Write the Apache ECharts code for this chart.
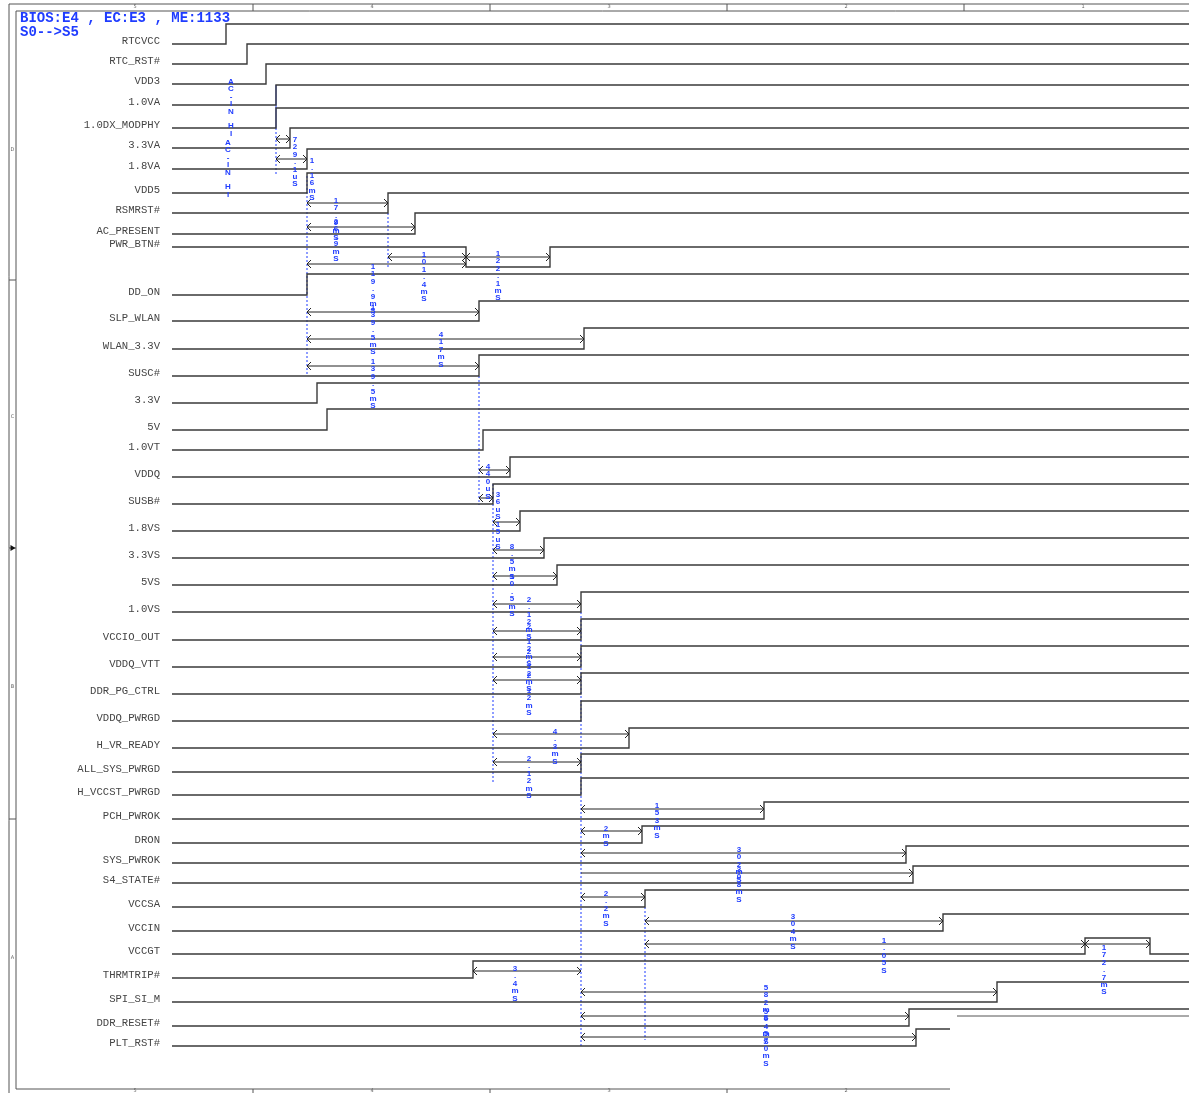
<!DOCTYPE html>
<html>
<head>
<meta charset="utf-8">
<title>S0 --> S5 power sequence</title>
<script src="https://cdn.jsdelivr.net/npm/echarts@6/dist/echarts.min.js"></script>
<style>
  html, body { margin: 0; padding: 0; background: #fff; }
  #chart { width: 1189px; height: 1093px; }
</style>
</head>
<body>
<div id="chart"></div>
<script>
// signal rows (top to bottom)
const signals = [
  "RTCVCC", "RTC_RST#", "VDD3", "1.0VA", "1.0DX_MODPHY", "3.3VA", "1.8VA", "VDD5",
  "RSMRST#", "AC_PRESENT", "PWR_BTN#", "DD_ON", "SLP_WLAN", "WLAN_3.3V", "SUSC#",
  "3.3V", "5V", "1.0VT", "VDDQ", "SUSB#", "1.8VS", "3.3VS", "5VS", "1.0VS",
  "VCCIO_OUT", "VDDQ_VTT", "DDR_PG_CTRL", "VDDQ_PWRGD", "H_VR_READY", "ALL_SYS_PWRGD",
  "H_VCCST_PWRGD", "PCH_PWROK", "DRON", "SYS_PWROK", "S4_STATE#", "VCCSA", "VCCIN",
  "VCCGT", "THRMTRIP#", "SPI_SI_M", "DDR_RESET#", "PLT_RST#"
];
// row value of the low and the high level of each trace
const lowLevel = [
  44, 64, 84, 105, 128, 148, 169, 193, 213, 234, 267, 295, 321, 349, 376,
  403, 430, 450, 477, 504, 531, 558, 585, 612, 640, 667, 694, 721, 748, 772,
  795, 819, 843, 863, 883, 907, 931, 954, 978, 1002, 1026, 1046
];
const highLevel = [
  24, 44, 64, 85, 108, 128, 149, 173, 193, 213, 247, 274, 301, 328, 355,
  383, 409, 430, 457, 484, 511, 538, 565, 592, 619, 646, 673, 701, 728, 754,
  778, 802, 826, 846, 866, 890, 914, 938, 961, 982, 1009, 1029
];
// 1 = trace starts high
const startHigh = [
  0, 0, 0, 0, 0, 0, 0, 0, 0, 0, 1, 0, 0, 0, 0,
  0, 0, 0, 0, 0, 0, 0, 0, 0, 0, 0, 0, 0, 0, 0,
  0, 0, 0, 0, 0, 0, 0, 0, 0, 0, 0, 0
];
// time of each level change
const edgeTimes = [
  [226], [247], [266], [276], [276], [290], [307], [307], [388], [415], [466, 550],
  [307], [479], [584], [479], [317], [327], [483], [510], [493], [520], [544],
  [557], [581], [581], [581], [581], [581], [629], [581], [581], [764], [642],
  [906], [913], [645], [943], [1085, 1150], [473], [997], [909], [916]
];
const traceStart = 172;
const timeEnd = 1189;
const traceEndOverride = { "PLT_RST#": 950 };

// timing measurements: from, to, row, text
const measFrom = [276, 276, 307, 307, 388, 466, 307, 307, 307, 307, 479, 479, 493, 493, 493,
  493, 493, 493, 493, 493, 493, 581, 581, 581, 581, 581, 645, 645, 1085, 473, 581, 581, 581];
const measTo = [290, 307, 388, 415, 466, 550, 466, 479, 584, 479, 510, 493, 520, 544, 557,
  581, 581, 581, 581, 629, 581, 764, 642, 906, 913, 645, 943, 1085, 1150, 581, 997, 909, 916];
const measRow = [139, 159, 203, 227, 257, 257, 264, 312, 339, 366, 470, 498, 522, 550, 576,
  604, 631, 657, 680, 734, 762, 809, 831, 853, 873, 897, 921, 944, 944, 971, 992, 1016, 1037];
const measText = ["729.1uS", "1.16mS", "17.9mS", "26.9mS", "101.4mS", "122.1mS", "119.9mS",
  "139.5mS", "417mS", "139.5mS", "440uS", "36uS", "15uS", "8.5mS", "10.5mS",
  "2.12mS", "2.12mS", "2.12mS", "2.12mS", "4.3mS", "2.12mS", "153mS", "2mS", "302mS",
  "308mS", "2.2mS", "304mS", "1.05S", "172.7mS", "3.4mS", "582mS", "564mS", "570mS"];
const measTextAt = [[295, 140], [312, 161], [336, 201], [336, 222], [424, 255], [498, 254],
  [373, 267], [373, 308], [441, 335], [373, 362], [488, 467], [498, 495], [498, 525],
  [512, 547], [512, 577], [529, 600], [529, 627], [529, 652], [529, 676], [555, 732],
  [529, 759], [657, 806], [606, 829], [739, 850], [739, 870], [606, 894], [793, 917],
  [884, 941], [1104, 948], [515, 969], [766, 988], [766, 1012], [766, 1034]];
const measLeftHead = [1, 1, 1, 1, 1, 1, 1, 1, 1, 1, 1, 1, 1, 1, 1, 1, 1, 1, 1, 1, 1,
  1, 1, 1, 0, 1, 1, 1, 1, 1, 1, 1, 1];

// event markers (time, from row, to row)
const markerTime = [276, 276, 307, 388, 479, 493, 581, 645];
const markerFrom = [85, 128, 176, 213, 376, 484, 612, 907];
const markerTo = [128, 176, 376, 268, 505, 782, 1046, 1040];
const markerSolid = [1, 0, 0, 0, 0, 0, 0, 0];

const notes = ["AC-IN HI", "AC-IN HI"];
const noteAt = [[231, 82], [228, 143]];

// drawing sheet border
const sheetH = [[4, 9, 1189], [11, 16, 1189], [1089, 16, 950], [280, 9, 16], [548, 9, 16],
  [819, 9, 16], [1016, 957, 1189]];
const sheetV = [[9, 4, 1093], [16, 11, 1089], [253, 4, 11], [490, 4, 11], [727, 4, 11],
  [964, 4, 11], [253, 1089, 1093], [490, 1089, 1093], [727, 1089, 1093]];
const zoneCols = ["5", "4", "3", "2", "1"];
const zoneColAt = [135, 372, 609, 846, 1083];
const zoneRows = ["D", "C", "B", "A"];
const zoneRowAt = [150, 417, 687, 958];

const BLUE = "#1f3cff";
const INK = "#3a3a3a";

const chart = echarts.init(document.getElementById("chart"));

function vtext(str) {
  return str.split("").join("\n");
}

function chevron(p, dir) {
  return {
    type: "polyline",
    shape: { points: [[p[0] + 4 * dir, p[1] - 4], [p[0], p[1]], [p[0] + 4 * dir, p[1] + 4]] },
    style: { stroke: "#222", lineWidth: 1, fill: null }
  };
}

// waveform + name
function renderWave(params, api) {
  const i = params.dataIndex;
  let lv = startHigh[i];
  const yOf = (l) => (l ? highLevel[i] : lowLevel[i]);
  const pts = [api.coord([traceStart, yOf(lv)])];
  edgeTimes[i].forEach((t) => {
    pts.push(api.coord([t, yOf(lv)]));
    lv = 1 - lv;
    pts.push(api.coord([t, yOf(lv)]));
  });
  const end = traceEndOverride[signals[i]] || timeEnd;
  pts.push(api.coord([end, yOf(lv)]));
  const lp = api.coord([traceStart - 12, yOf(startHigh[i]) - 3]);
  return {
    type: "group",
    children: [
      { type: "polyline", shape: { points: pts }, style: { stroke: INK, lineWidth: 1.4, fill: null } },
      {
        type: "text", x: lp[0], y: lp[1],
        style: {
          text: signals[i], align: "right", verticalAlign: "middle",
          font: '10.6px "Liberation Mono"', fill: "#444"
        }
      }
    ]
  };
}

// measurement arrow with its vertical label
function renderMeas(params, api) {
  const k = params.dataIndex;
  const a = api.coord([measFrom[k], measRow[k]]);
  const b = api.coord([measTo[k], measRow[k]]);
  const t = api.coord(measTextAt[k]);
  const children = [
    { type: "line", shape: { x1: a[0], y1: a[1], x2: b[0], y2: b[1] }, style: { stroke: "#222", lineWidth: 1 } }
  ];
  if (measLeftHead[k]) children.push(chevron(a, 1));
  children.push(chevron(b, -1));
  children.push({
    type: "text", x: t[0], y: t[1] - 4, z2: 5,
    style: {
      text: vtext(measText[k]), align: "center", verticalAlign: "top",
      font: 'bold 8px "Liberation Sans"', lineHeight: 7.4, fill: BLUE
    }
  });
  return { type: "group", children };
}

function renderMarker(params, api) {
  const k = params.dataIndex;
  const a = api.coord([markerTime[k], markerFrom[k]]);
  const b = api.coord([markerTime[k], markerTo[k]]);
  return {
    type: "line",
    shape: { x1: a[0], y1: a[1], x2: b[0], y2: b[1] },
    style: { stroke: BLUE, lineWidth: 1, lineDash: markerSolid[k] ? null : [2, 2] }
  };
}

function renderNote(params, api) {
  const k = params.dataIndex;
  const p = api.coord(noteAt[k]);
  return {
    type: "text", x: p[0], y: p[1] - 4,
    style: {
      text: vtext(notes[k]), align: "center", verticalAlign: "top",
      font: 'bold 8px "Liberation Sans"', lineHeight: 7.4, fill: BLUE
    }
  };
}

function renderSheet(params, api) {
  const children = [];
  sheetH.forEach(([y, x1, x2]) => {
    const a = api.coord([x1, y]), b = api.coord([x2, y]);
    children.push({ type: "line", shape: { x1: a[0], y1: a[1], x2: b[0], y2: b[1] }, style: { stroke: "#555", lineWidth: 1 } });
  });
  sheetV.forEach(([x, y1, y2]) => {
    const a = api.coord([x, y1]), b = api.coord([x, y2]);
    children.push({ type: "line", shape: { x1: a[0], y1: a[1], x2: b[0], y2: b[1] }, style: { stroke: "#555", lineWidth: 1 } });
  });
  zoneCols.forEach((c, j) => {
    [7, 1091].forEach((yy) => {
      if (yy > 1000 && j === 4) return;
      const p = api.coord([zoneColAt[j], yy]);
      children.push({ type: "text", x: p[0], y: p[1], style: { text: c, align: "center", verticalAlign: "middle", font: '5px "DejaVu Sans"', fill: "#666" } });
    });
  });
  zoneRows.forEach((r, j) => {
    const p = api.coord([12.5, zoneRowAt[j]]);
    children.push({ type: "text", x: p[0], y: p[1], style: { text: r, align: "center", verticalAlign: "middle", font: '5px "DejaVu Sans"', fill: "#666" } });
  });
  const m = api.coord([12.5, 548]);
  children.push({ type: "polygon", shape: { points: [[m[0] - 2, m[1] - 3], [m[0] + 3, m[1]], [m[0] - 2, m[1] + 3]] }, style: { fill: "#111" } });
  return { type: "group", children };
}

const option = {
  animation: false,
  title: {
    text: "BIOS:E4 , EC:E3 , ME:1133\nS0-->S5",
    left: 20,
    top: 11,
    padding: 0,
    textStyle: {
      fontFamily: "Liberation Mono",
      fontWeight: "bold",
      fontSize: 14,
      lineHeight: 14,
      color: BLUE
    }
  },
  grid: { left: 0, right: 0, top: 0, bottom: 0 },
  xAxis: { type: "value", min: 0, max: timeEnd, show: false },
  yAxis: { type: "value", min: 0, max: 1093, inverse: true, show: false },
  series: [
    { type: "custom", name: "sheet", renderItem: renderSheet, data: [[0]], clip: false, silent: true },
    { type: "custom", name: "markers", renderItem: renderMarker, data: markerTime.map((t, k) => [t, markerFrom[k]]), clip: false, silent: true },
    { type: "custom", name: "signals", renderItem: renderWave, data: signals.map((s, i) => [i, lowLevel[i]]), clip: false, silent: true },
    { type: "custom", name: "timing", renderItem: renderMeas, data: measText.map((s, k) => [measFrom[k], measRow[k]]), clip: false, silent: true },
    { type: "custom", name: "notes", renderItem: renderNote, data: notes.map((s, k) => noteAt[k]), clip: false, silent: true }
  ]
};

chart.setOption(option);
window.addEventListener("resize", () => chart.resize());
</script>
</body>
</html>
